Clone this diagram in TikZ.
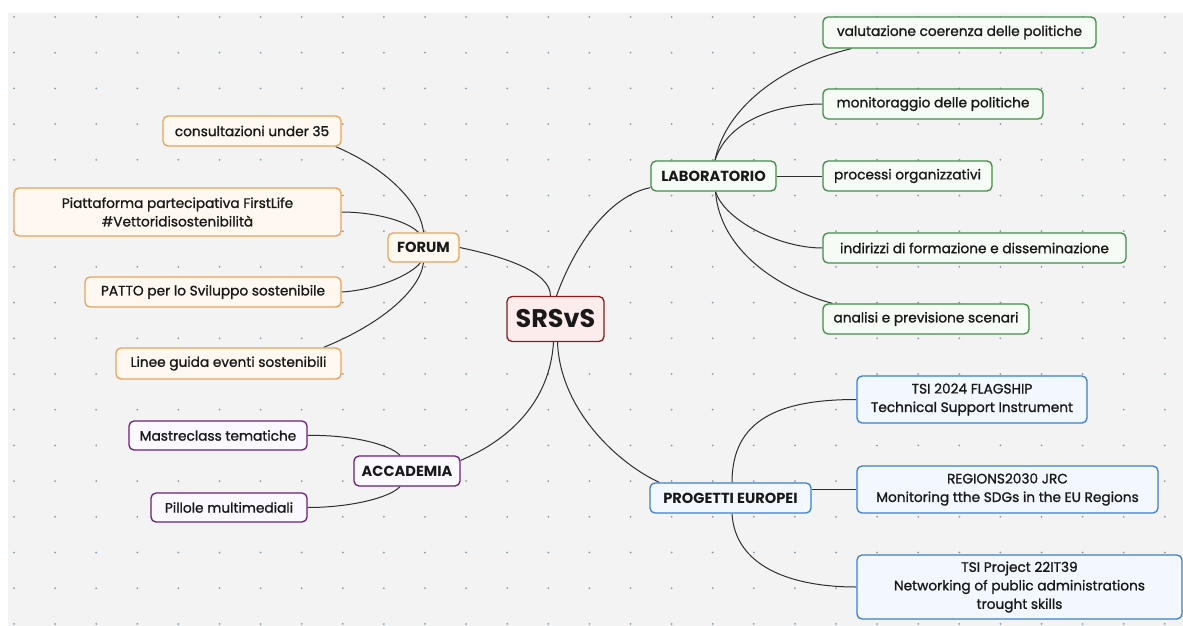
\documentclass[tikz,border=0pt]{standalone}
\usepackage{fontspec}
\setmainfont{Poppins}
\newfontface\medfont{Poppins}[FakeBold=1.2]
\usetikzlibrary{calc}
\definecolor{bgc}{HTML}{F3F3F3}
\definecolor{dotc}{HTML}{8C9AA3}
\definecolor{linec}{HTML}{2E2E2E}
\definecolor{orb}{HTML}{E9A25C}\definecolor{orf}{HTML}{FFF8F1}
\definecolor{pub}{HTML}{6A1E7C}\definecolor{puf}{HTML}{FBF8FF}
\definecolor{grb}{HTML}{3F8F45}\definecolor{grf}{HTML}{F6FBF6}
\definecolor{blb}{HTML}{3B80D0}\definecolor{blf}{HTML}{F2F8FE}
\definecolor{rdb}{HTML}{8E1B1B}\definecolor{rdf}{HTML}{FDECEC}
\pgfdeclarelayer{grid}\pgfdeclarelayer{edges}
\pgfsetlayers{grid,edges,main}
\tikzset{
  box/.style={rounded corners=5pt, line width=1.3pt, inner sep=0pt, align=center,
    font=\medfont\fontsize{13.7}{18.5}\selectfont, text=black!90},
  orbox/.style={box, draw=orb, fill=orf},
  pubox/.style={box, draw=pub, fill=puf},
  grbox/.style={box, draw=grb, fill=grf},
  blbox/.style={box, draw=blb, fill=blf},
  hub/.style={font=\fontsize{14.6}{18}\selectfont\bfseries},
  conn/.style={draw=linec, line width=1pt},
}
\newcommand{\bx}[6]{% name, style, cx, cy, w, h
  \node[#2, minimum width=#5pt, minimum height=#6pt] (#1) at (#3,#4)}
\begin{document}
\begin{tikzpicture}[x=1pt,y=-1pt]
\useasboundingbox (0,0) rectangle (1183,626);
\begin{pgfonlayer}{grid}
  \fill[white] (0,0) rectangle (1183,626);
  \fill[bgc] (8,13) rectangle (1183,626);
  \foreach \i in {0,...,28}{
    \foreach \j in {0,...,17}{
      \fill[dotc] ({14+41.1*\i},{17+35.7*\j}) circle (1pt);
    }
  }
\end{pgfonlayer}

% centre
\node[box, draw=rdb, fill=rdf, minimum width=97pt, minimum height=45pt,
  font=\fontsize{25.5}{28}\selectfont\bfseries] (srsvs) at (555.5,319) {SRSvS};

% FORUM
\bx{forum}{orbox,hub}{423.5}{247.5}{71}{29}{FORUM};
\bx{c1}{orbox}{252}{131}{178}{30}{consultazioni under 35};
\bx{c2}{orbox}{177.5}{212}{327}{48}{Piattaforma partecipativa FirstLife\\\#Vettoridisostenibilità};
\bx{c3}{orbox}{213}{292}{256}{30}{PATTO per lo Sviluppo sostenibile};
\bx{c4}{orbox}{228.5}{363.5}{225}{31}{Linee guida eventi sostenibili};

% ACCADEMIA
\bx{accademia}{pubox,hub}{407}{471}{106}{30}{ACCADEMIA};
\bx{a1}{pubox}{218}{435.5}{178}{29}{Mastreclass tematiche};
\bx{a2}{pubox}{229}{507.5}{156}{29}{Pillole multimediali};

% LABORATORIO
\bx{lab}{grbox,hub}{713.5}{176}{125}{30}{LABORATORIO};
\bx{l1}{grbox}{959.5}{32.5}{273}{31}{valutazione coerenza delle politiche};
\bx{l2}{grbox}{933}{104}{220}{30}{monitoraggio delle politiche};
\bx{l3}{grbox}{907.5}{176}{169}{30}{processi organizzativi};
\bx{l4}{grbox}{974.5}{248}{303}{30}{indirizzi di formazione e disseminazione};
\bx{l5}{grbox}{926}{319}{206}{30}{analisi e previsione scenari};

% PROGETTI EUROPEI
\bx{prog}{blbox,hub}{730.5}{498}{161}{30}{PROGETTI EUROPEI};
\bx{p1}{blbox}{972}{399.5}{230}{47}{TSI 2024 FLAGSHIP\\Technical Support Instrument};
\bx{p2}{blbox}{1007.5}{489.5}{301}{47}{REGIONS2030 JRC\\Monitoring tthe SDGs in the EU Regions};
\bx{p3}{blbox}{1019.5}{587}{325}{64}{TSI Project 22IT39\\Networking of public administrations\\trought skills};

\begin{pgfonlayer}{edges}
  % centre branches
  \draw[conn] (forum.east) .. controls +(41,8.5) and +(0,-25) .. ($(srsvs.north)+(-5,0)$);
  \draw[conn] ($(srsvs.north)+(1,0)$) .. controls +(18.5,-51.5) and +(-41,8) .. ($(lab.south west)+(0,-4)$);
  \draw[conn] ($(srsvs.south)+(-2,0)$) .. controls +(-3.5,58.5) and +(50,-21) .. ($(accademia.north east)+(0,5)$);
  \draw[conn] ($(srsvs.south)+(2,0)$) .. controls +(2.5,68.5) and +(-40,-18) .. ($(prog.north west)+(10,0)$);
  % FORUM
  \draw[conn] ($(c1.south east)+(-6,0)$) .. controls +(45,19) and +(-3.5,-33) .. (forum.north);
  \draw[conn] (c2.east) .. controls +(29,0) and +(-13.5,-13) .. ($(forum.north)+(-5,0)$);
  \draw[conn] (c3.east) .. controls +(34,-2) and +(-10.5,13) .. ($(forum.south)+(-3,0)$);
  \draw[conn] ($(c4.north east)+(-18,0)$) .. controls +(57,-23) and +(-3.5,28) .. (forum.south);
  % ACCADEMIA
  \draw[conn] (a1.east) .. controls +(43,-1) and +(-10,-11) .. ($(accademia.north)+(-7,0)$);
  \draw[conn] (a2.east) .. controls +(43,0) and +(-10,11) .. ($(accademia.south)+(-7,0)$);
  % LABORATORIO
  \draw[conn] ($(lab.north)+(1.5,0)$) .. controls +(10,-51) and +(-72,17) .. ($(l1.south west)+(29,0)$);
  \draw[conn] ($(lab.north)+(1.5,0)$) .. controls +(13,-41) and +(-43,0) .. (l2.west);
  \draw[conn] (lab.east) -- (l3.west);
  \draw[conn] ($(lab.south)+(2,0)$) .. controls +(9.5,29) and +(-43,0) .. (l4.west);
  \draw[conn] ($(lab.south)+(2,0)$) .. controls +(4.5,59) and +(-53,-14) .. ($(l5.north west)+(10,0)$);
  % PROGETTI
  \draw[conn] ($(prog.north)+(1.5,0)$) .. controls +(0,-63) and +(-77,0) .. (p1.west);
  \draw[conn] (prog.east |- p2.west) -- (p2.west);
  \draw[conn] ($(prog.south)+(1.5,0)$) .. controls +(3,52) and +(-67,0) .. (p3.west);
\end{pgfonlayer}
\end{tikzpicture}
\end{document}
